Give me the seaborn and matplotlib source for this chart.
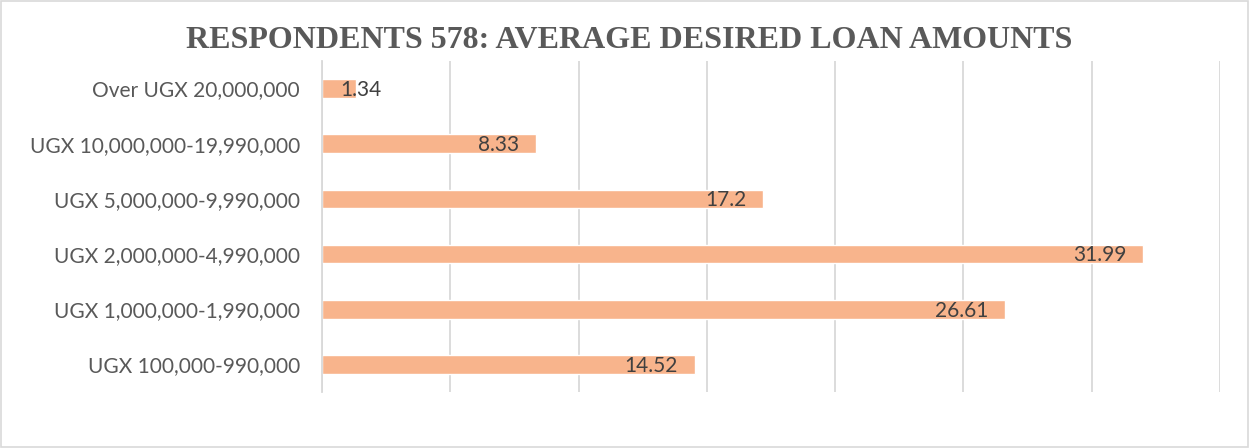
import matplotlib
matplotlib.use("Agg")
import matplotlib.pyplot as plt
import seaborn as sns
import pandas as pd
from matplotlib.patches import Rectangle

# data (top to bottom as shown)
categories = [
    "Over UGX 20,000,000",
    "UGX 10,000,000-19,990,000",
    "UGX 5,000,000-9,990,000",
    "UGX 2,000,000-4,990,000",
    "UGX 1,000,000-1,990,000",
    "UGX 100,000-990,000",
]
values = [1.34, 8.33, 17.2, 31.99, 26.61, 14.52]
value_labels = ["1.34", "8.33", "17.2", "31.99", "26.61", "14.52"]

df = pd.DataFrame({"category": categories, "value": values})

sns.set_theme(style="white")
plt.rcParams["font.family"] = ["Lato", "DejaVu Sans"]

fig = plt.figure(figsize=(12.5, 4.48), dpi=100)
ax = fig.add_axes([322 / 1250, 1 - 392 / 448, (1220 - 322) / 1250, (392 - 61) / 448])

sns.barplot(data=df, x="value", y="category", order=categories,
            color="#F8B48C", saturation=1, width=0.34, ax=ax, zorder=2)

ax.set_xlim(0, 35)
ax.set_ylim(5.5, -0.5)
ax.set_xticks(range(0, 36, 5))
ax.set_xticklabels([])
ax.tick_params(axis="x", length=0)
ax.tick_params(axis="y", length=0, pad=16, labelsize=15, labelcolor="#595959")
ax.grid(axis="x", color="#D9D9D9", linewidth=1.3, zorder=0)
ax.set_xlabel("")
ax.set_ylabel("")
for s in ["top", "right", "bottom"]:
    ax.spines[s].set_visible(False)
ax.spines["left"].set_color("#D9D9D9")
ax.spines["left"].set_linewidth(1.3)

# data labels at inside end
for i, (v, lab) in enumerate(zip(values, value_labels)):
    if v < 3:
        ax.annotate(lab, (v, i), xytext=(3, -1), textcoords="offset points",
                    ha="center", va="center", fontsize=15, color="#404040")
    else:
        ax.annotate(lab, (v, i), xytext=(-12, -1), textcoords="offset points",
                    ha="right", va="center", fontsize=15, color="#404040")

fig.text(0.503, 1 - 41 / 448, "RESPONDENTS 578: AVERAGE DESIRED LOAN AMOUNTS",
         ha="center", va="center", fontsize=23, fontweight="bold",
         color="#595959", family=["Liberation Serif", "DejaVu Serif"])

fig.patches.append(Rectangle((0.001, 0.002), 0.997, 0.996, transform=fig.transFigure,
                             fill=False, edgecolor="#D9D9D9", linewidth=1.2))

fig.savefig("out.png", dpi=100)
